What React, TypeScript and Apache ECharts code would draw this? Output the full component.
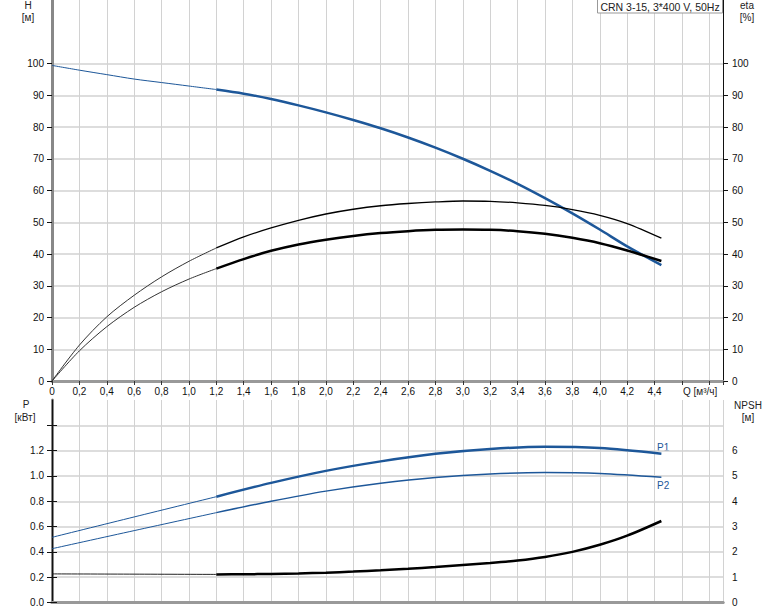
import React, { useEffect, useRef } from "react";
import * as echarts from "echarts";

// ---- data ----
const qLow = [0, 0.2, 0.4, 0.6, 0.8, 1.0, 1.2];
const qHigh = [1.2, 1.4, 1.6, 1.8, 2.0, 2.2, 2.4, 2.6, 2.8, 3.0, 3.2, 3.4, 3.6, 3.8, 4.0, 4.2, 4.45];

const headLow = [99.4, 97.9, 96.5, 95.1, 94.0, 92.9, 91.8];
const headHigh = [91.8, 90.5, 88.8, 86.8, 84.6, 82.2, 79.6, 76.7, 73.5, 70.0, 66.2, 62.1, 57.6, 52.8, 47.7, 42.4, 36.5];

const etaPumpLow = [0, 11.3, 20.2, 27.0, 32.8, 37.7, 41.9];
const etaPumpHigh = [41.9, 45.4, 48.2, 50.6, 52.6, 54.1, 55.2, 55.9, 56.4, 56.7, 56.6, 56.1, 55.3, 54.0, 52.2, 49.6, 45.0];

const etaTotalLow = [0, 9.5, 17.1, 23.2, 28.1, 32.1, 35.4];
const etaTotalHigh = [35.4, 38.4, 41.0, 43.0, 44.5, 45.7, 46.6, 47.2, 47.6, 47.7, 47.6, 47.2, 46.4, 45.1, 43.4, 41.1, 37.8];

const qPLow = [0, 0.6, 1.2];
const qPHigh = [1.2, 1.6, 2.0, 2.4, 2.8, 3.2, 3.6, 4.0, 4.45];
const p1Low = [0.515, 0.676, 0.836];
const p1High = [0.836, 0.945, 1.04, 1.115, 1.175, 1.213, 1.23, 1.22, 1.175];
const p2Low = [0.425, 0.568, 0.71];
const p2High = [0.71, 0.8, 0.88, 0.942, 0.988, 1.016, 1.027, 1.02, 0.99];

const qNpshLow = [0, 0.6, 1.2];
const qNpshHigh = [1.2, 1.4, 1.6, 1.8, 2.0, 2.2, 2.4, 2.6, 2.8, 3.0, 3.2, 3.4, 3.6, 3.8, 4.0, 4.2, 4.45];
const npshLow = [1.13, 1.12, 1.11];
const npshHigh = [1.11, 1.115, 1.13, 1.15, 1.18, 1.22, 1.27, 1.33, 1.4, 1.48, 1.56, 1.66, 1.8, 2.0, 2.28, 2.64, 3.22];

const hTicks = [0, 10, 20, 30, 40, 50, 60, 70, 80, 90, 100];
const pTicks = [0, 0.2, 0.4, 0.6, 0.8, 1.0, 1.2, 1.4];
const npshTicks = [0, 1, 2, 3, 4, 5, 6, 7];

const titleText = "CRN 3-15, 3*400 V, 50Hz";

const FONT = "Liberation Sans";
const BLUE = "#1d5799";
const GRID = "#d2d2d2";

const zip = (xs: number[], ys: number[]) => xs.map((x, i) => [x, ys[i]]);

export default function App() {
  const ref = useRef<HTMLDivElement>(null);
  useEffect(() => {
    if (!ref.current) return;
    const chart = echarts.init(ref.current, null, { renderer: "svg" });
    const labelStyle = { color: "#111", fontFamily: FONT, fontSize: 10 };
    const line = (name: string, xi: number, yi: number, data: number[][], color: string, width: number) => ({
      type: "line",
      name,
      xAxisIndex: xi,
      yAxisIndex: yi,
      data,
      smooth: 0.3,
      symbol: "none",
      lineStyle: { color, width },
      z: 5,
    });
    const txt = (x: number, y: number, text: string, align = "center") => ({
      type: "text",
      x,
      y,
      style: { text, fill: "#222", font: `10px "${FONT}"`, textAlign: align, textVerticalAlign: "middle" },
    });
    chart.setOption({
      animation: false,
      backgroundColor: "#fff",
      grid: [
        { left: 52, top: 0, width: 671, height: 381 },
        { left: 52, top: 400, width: 671, height: 202.5 },
      ],
      xAxis: [
        {
          type: "value", gridIndex: 0, min: 0, max: 4.9, interval: 0.2,
          axisLine: { show: true, lineStyle: { color: "#999", width: 3 } },
          axisTick: { show: true, length: 4, lineStyle: { color: "#333" } },
          axisLabel: {
            ...labelStyle, margin: 5,
            formatter: (v: number) => (v > 4.45 ? "" : v === 0 ? "0" : v.toFixed(1).replace(".", ",")),
          },
          splitLine: { show: true, lineStyle: { color: GRID, width: 1 } },
        },
        {
          type: "value", gridIndex: 1, min: 0, max: 4.9, interval: 0.2,
          axisLine: { show: true, lineStyle: { color: "#999", width: 3 } },
          axisTick: { show: false },
          axisLabel: { show: false },
          splitLine: { show: true, lineStyle: { color: GRID, width: 1 } },
        },
        {
          type: "value", gridIndex: 1, position: "top", min: 0, max: 4.9, interval: 0.2,
          axisLine: { show: true, lineStyle: { color: "#999", width: 3 } },
          axisTick: { show: false },
          axisLabel: { show: false },
          splitLine: { show: false },
        },
      ],
      yAxis: [
        {
          type: "value", gridIndex: 0, position: "left", min: 0, max: 120, interval: 10,
          axisLine: { show: true, lineStyle: { color: "#888", width: 3 } },
          axisTick: { show: true, length: 5, customValues: hTicks, lineStyle: { color: "#111" } },
          axisLabel: { ...labelStyle, margin: 8, customValues: hTicks, formatter: (v: number) => (v > 100 ? "" : String(v)) },
          splitLine: { show: true, lineStyle: { color: GRID, width: 1.5 } },
        },
        {
          type: "value", gridIndex: 0, position: "right", min: 0, max: 120, interval: 10,
          axisLine: { show: true, lineStyle: { color: "#111", width: 1 } },
          axisTick: { show: true, length: 5, customValues: hTicks, lineStyle: { color: "#111" } },
          axisLabel: { ...labelStyle, margin: 9, customValues: hTicks, formatter: (v: number) => (v > 100 ? "" : String(v)) },
          splitLine: { show: false },
        },
        {
          type: "value", gridIndex: 1, position: "left", min: 0, max: 1.6, interval: 0.2,
          axisLine: { show: true, lineStyle: { color: "#888", width: 3 } },
          axisTick: { show: true, length: 5, customValues: pTicks, lineStyle: { color: "#111" } },
          axisLabel: {
            ...labelStyle, margin: 8, customValues: [0, 0.2, 0.4, 0.6, 0.8, 1.0, 1.2],
            formatter: (v: number) => (v > 1.25 ? "" : v.toFixed(1)),
          },
          splitLine: { show: true, lineStyle: { color: GRID, width: 1.5 } },
        },
        {
          type: "value", gridIndex: 1, position: "right", min: 0, max: 8, interval: 1,
          axisLine: { show: true, lineStyle: { color: "#111", width: 1 } },
          axisTick: { show: true, length: 5, customValues: npshTicks, lineStyle: { color: "#111" } },
          axisLabel: {
            ...labelStyle, margin: 9, customValues: [0, 1, 2, 3, 4, 5, 6],
            formatter: (v: number) => (v > 6 ? "" : String(v)),
          },
          splitLine: { show: false },
        },
      ],
      series: [
        line("H", 0, 0, zip(qLow, headLow), BLUE, 1),
        line("H", 0, 0, zip(qHigh, headHigh), BLUE, 2.5),
        line("eta pump", 0, 1, zip(qLow, etaPumpLow), "#333", 1),
        line("eta pump", 0, 1, zip(qHigh, etaPumpHigh), "#000", 1.3),
        line("eta total", 0, 1, zip(qLow, etaTotalLow), "#333", 1),
        line("eta total", 0, 1, zip(qHigh, etaTotalHigh), "#000", 2.5),
        line("P1", 1, 2, zip(qPLow, p1Low), BLUE, 1),
        line("P1", 1, 2, zip(qPHigh, p1High), BLUE, 2.5),
        line("P2", 1, 2, zip(qPLow, p2Low), BLUE, 1),
        line("P2", 1, 2, zip(qPHigh, p2High), BLUE, 1.5),
        line("NPSH", 1, 3, zip(qNpshLow, npshLow), "#222", 1),
        line("NPSH", 1, 3, zip(qNpshHigh, npshHigh), "#000", 2.5),
      ],
      graphic: [
        txt(28, 5, "H"),
        txt(28, 17, "[м]"),
        txt(747, 5, "eta"),
        txt(747, 17, "[%]"),
        txt(26, 404, "P"),
        txt(25, 417, "[кВт]"),
        txt(748, 405, "NPSH"),
        txt(748, 417, "[м]"),
        txt(683, 391, "Q [м³/ч]", "left"),
        { type: "text", x: 657, y: 447, style: { text: "P1", fill: BLUE, font: `10px "${FONT}"`, textVerticalAlign: "middle" } },
        { type: "text", x: 657, y: 485, style: { text: "P2", fill: BLUE, font: `10px "${FONT}"`, textVerticalAlign: "middle" } },
        {
          type: "rect", shape: { x: 597.5, y: -1, width: 125, height: 14 },
          style: { fill: "#fff", stroke: "#999", lineWidth: 1 }, z: 10,
        },
        {
          type: "text", x: 660, y: 6.5, z: 11,
          style: { text: titleText, fill: "#222", font: `10.5px "${FONT}"`, textAlign: "center", textVerticalAlign: "middle" },
        },
      ],
    });
    return () => chart.dispose();
  }, []);
  return <div ref={ref} style={{ width: 774, height: 611, position: "absolute", left: 0, top: 0 }} />;
}
